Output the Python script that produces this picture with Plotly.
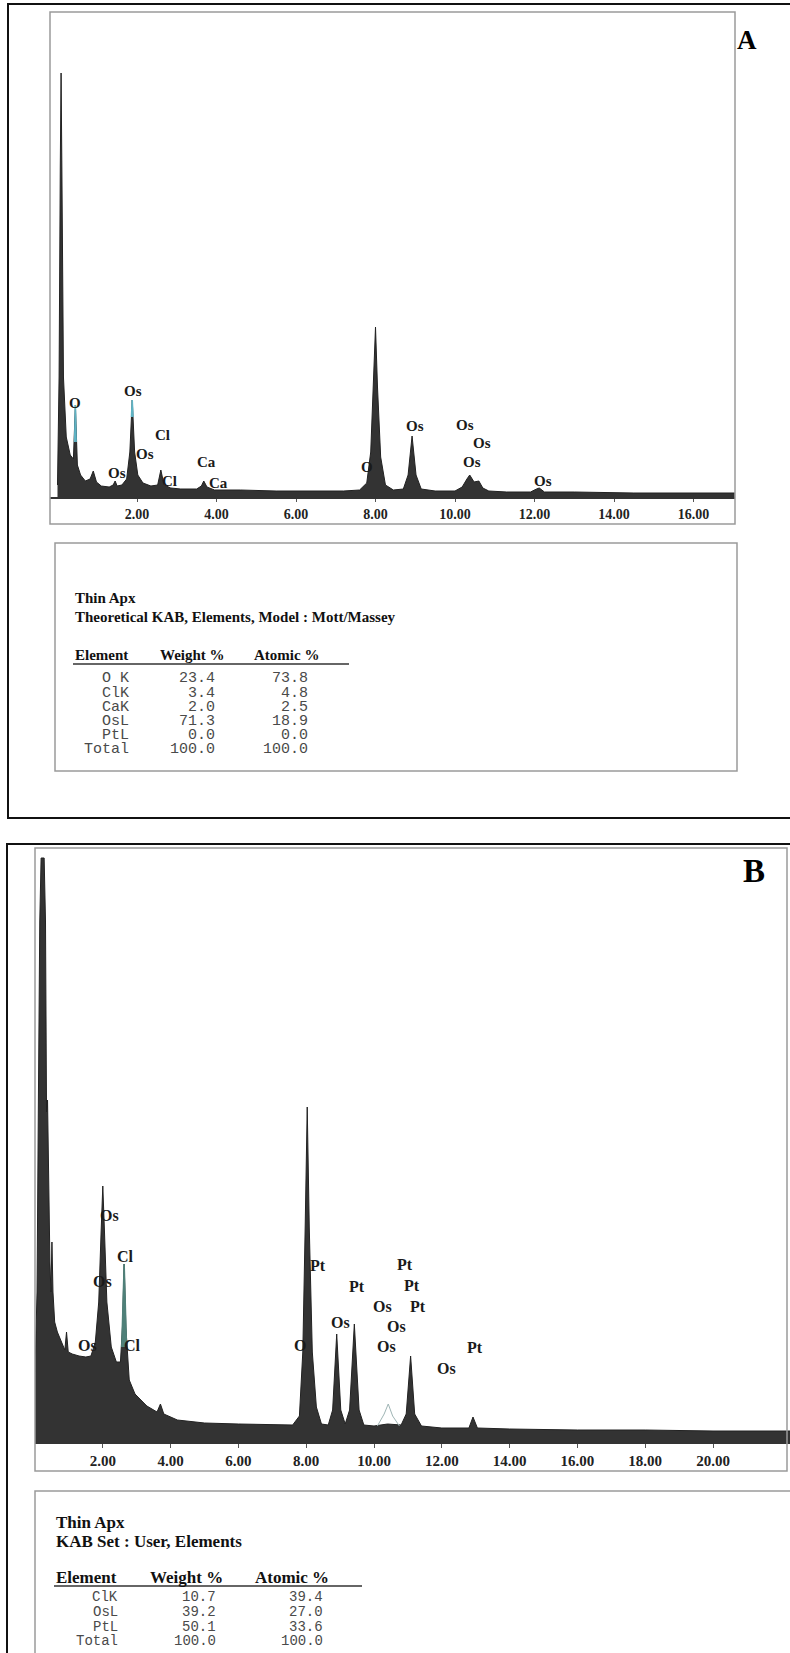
import plotly.graph_objects as go

W, H = 790, 1653

# ---------------- data ----------------
# Panel A spectrum (energy keV, counts in arbitrary units)
energy_A = [0.00, 0.04, 0.07, 0.09, 0.11, 0.15, 0.22, 0.32, 0.40, 0.45, 0.50, 0.58, 0.70, 0.82,
            0.90, 0.98, 1.10, 1.30, 1.40, 1.45, 1.50, 1.62, 1.74, 1.82, 1.88, 1.94, 2.02, 2.15,
            2.35, 2.52, 2.60, 2.68, 2.85, 3.10, 3.50, 3.62, 3.68, 3.76, 3.95, 4.60, 5.50, 6.50,
            7.20, 7.60, 7.78, 7.88, 7.95, 8.00, 8.05, 8.13, 8.25, 8.45, 8.70, 8.82, 8.92, 9.02,
            9.15, 9.50, 10.00, 10.18, 10.30, 10.37, 10.48, 10.60, 10.70, 10.85, 11.30, 11.90,
            12.05, 12.12, 12.25, 13.00, 14.50, 16.00, 17.04]
counts_A = [12, 120, 330, 424, 330, 120, 60, 42, 38, 92, 32, 22, 16, 18,
            26, 15, 11, 10, 12, 16, 11, 12, 18, 45, 97, 45, 22, 14,
            11, 12, 27, 12, 9, 8, 8, 11, 16, 10, 7, 7, 6, 6,
            6, 7, 14, 45, 110, 170, 110, 40, 12, 7, 8, 22, 61, 22,
            8, 6, 6, 10, 18, 22, 15, 16, 9, 6, 5, 5,
            8, 9, 5, 5, 4, 4, 4]

# Panel B spectrum
energy_B = [0.00, 0.06, 0.10, 0.14, 0.18, 0.27, 0.31, 0.34, 0.37, 0.40, 0.44, 0.47, 0.50, 0.53,
            0.58, 0.66, 0.78, 0.88, 0.93, 0.98, 1.10, 1.30, 1.50, 1.65, 1.78, 1.88, 1.95, 2.00,
            2.05, 2.12, 2.25, 2.40, 2.52, 2.58, 2.63, 2.68, 2.78, 2.95, 3.30, 3.60, 3.70, 3.80,
            4.20, 5.00, 6.00, 7.00, 7.60, 7.80, 7.90, 7.97, 8.03, 8.09, 8.18, 8.30, 8.45, 8.65,
            8.78, 8.90, 9.02, 9.15, 9.28, 9.42, 9.56, 9.70, 10.00, 10.40, 10.80, 10.95, 11.08,
            11.20, 11.40, 12.00, 12.80, 12.92, 13.05, 14.00, 16.00, 18.00, 20.00, 22.30]
counts_B = [70, 150, 340, 520, 584, 584, 520, 330, 342, 250, 180, 150, 200, 150,
            120, 110, 100, 92, 110, 90, 88, 86, 85, 86, 100, 140, 210, 256,
            210, 140, 95, 80, 80, 115, 178, 115, 62, 48, 36, 30, 38, 28,
            22, 19, 18, 17, 17, 26, 90, 215, 335, 215, 90, 35, 18, 17,
            32, 108, 32, 18, 32, 118, 32, 17, 16, 18, 17, 28, 86,
            28, 16, 14, 14, 25, 14, 13, 12, 12, 11, 11]

# overlay traces (coloured outlines in the original print)
overlay_A_e = [0.43, 0.45, 0.47, None, 1.86, 1.88, 1.90]
overlay_A_c = [55, 92, 55, None, 80, 97, 80]
overlay_B_cl_e = [2.56, 2.63, 2.70]
overlay_B_cl_c = [95, 178, 95]
overlay_B_os_e = [10.10, 10.30, 10.42, 10.55, 10.75]
overlay_B_os_c = [16, 28, 38, 26, 16]

ticks_A = [2, 4, 6, 8, 10, 12, 14, 16]
ticks_B = [2, 4, 6, 8, 10, 12, 14, 16, 18, 20]

elements_A = ["O K", "ClK", "CaK", "OsL", "PtL", "Total"]
weight_A = [23.4, 3.4, 2.0, 71.3, 0.0, 100.0]
atomic_A = [73.8, 4.8, 2.5, 18.9, 0.0, 100.0]

elements_B = ["ClK", "OsL", "PtL", "Total"]
weight_B = [10.7, 39.2, 50.1, 100.0]
atomic_B = [39.4, 27.0, 33.6, 100.0]

labels_A = ["O", "Os", "Cl", "Os", "Os", "Cl", "Ca", "Ca", "O", "Os", "Os", "Os", "Os", "Os"]
labels_B = ["Os", "Cl", "Os", "Os", "Cl", "O", "Pt", "Pt", "Os", "Pt", "Pt", "Os", "Pt", "Os",
            "Os", "Pt", "Os"]

# ---------------- layout helpers ----------------
def px(x):
    return x / W


def py(y):
    return 1 - y / H


# label anchor points (keV, counts)
label_pos_A = [(0.44, 94), (1.90, 106), (2.65, 62), (2.20, 43), (1.50, 24), (2.83, 16),
               (3.74, 35), (4.04, 14), (7.79, 30), (8.99, 71), (10.25, 72), (10.68, 54),
               (10.43, 35), (12.21, 16)]
label_pos_B = [(2.21, 227), (2.68, 186), (1.98, 161), (1.56, 97), (2.89, 97), (7.82, 97),
               (8.35, 177), (9.50, 156), (9.00, 120), (10.91, 178), (11.12, 157), (10.24, 136),
               (11.30, 136), (10.65, 116), (10.38, 96), (12.98, 95), (12.15, 74)]

SERIF = "Liberation Serif, Times New Roman, serif"
MONO = "Liberation Mono, Courier New, monospace"

fig = go.Figure()

fig.add_trace(go.Scatter(x=energy_A, y=counts_A, mode="lines", fill="tozeroy",
                         line=dict(color="#222222", width=1), fillcolor="#333333",
                         xaxis="x", yaxis="y", hoverinfo="skip", showlegend=False))
fig.add_trace(go.Scatter(x=overlay_A_e, y=overlay_A_c, mode="lines",
                         line=dict(color="#5fb3c4", width=1.5),
                         xaxis="x", yaxis="y", hoverinfo="skip", showlegend=False))

fig.add_trace(go.Scatter(x=energy_B, y=counts_B, mode="lines", fill="tozeroy",
                         line=dict(color="#222222", width=1), fillcolor="#333333",
                         xaxis="x2", yaxis="y2", hoverinfo="skip", showlegend=False))
fig.add_trace(go.Scatter(x=overlay_B_cl_e, y=overlay_B_cl_c, mode="lines", fill="toself",
                         line=dict(color="#4f8079", width=1.5), fillcolor="#4f8079",
                         xaxis="x2", yaxis="y2", hoverinfo="skip", showlegend=False))
fig.add_trace(go.Scatter(x=overlay_B_os_e, y=overlay_B_os_c, mode="lines",
                         line=dict(color="#9fb5b5", width=1),
                         xaxis="x2", yaxis="y2", hoverinfo="skip", showlegend=False))

# axes geometry (pixels)
A_left, A_right, A_axis, A_top = 50, 735, 497, 12
A_zero, A_scale = 57.5, 39.75
B_left, B_right, B_axis, B_top = 35, 790, 1442, 848
B_zero, B_scale = 35.0, 33.9

axis_common = dict(showgrid=False, zeroline=False, showline=True, linecolor="#333333",
                   linewidth=2, ticks="outside", tickcolor="#555555",
                   tickformat=".2f", fixedrange=True)

fig.update_layout(
    width=W, height=H, autosize=False,
    margin=dict(l=0, r=0, t=0, b=0, pad=0),
    paper_bgcolor="white", plot_bgcolor="white",
    showlegend=False,
    xaxis=dict(domain=[px(A_left), px(A_right)],
               range=[(A_left - A_zero) / A_scale, (A_right - A_zero) / A_scale],
               tickvals=ticks_A, anchor="y", ticklen=3,
               tickfont=dict(family=SERIF, size=14, color="#222222", weight="bold"),
               **axis_common),
    yaxis=dict(domain=[py(A_axis), py(A_top)], range=[0, A_axis - A_top], visible=False,
               anchor="x", fixedrange=True),
    xaxis2=dict(domain=[px(B_left), px(B_right)],
                range=[(B_left - B_zero) / B_scale, (B_right - B_zero) / B_scale],
                tickvals=ticks_B, anchor="y2", ticklen=4,
                tickfont=dict(family=SERIF, size=15, color="#222222", weight="bold"),
                **axis_common),
    yaxis2=dict(domain=[py(B_axis), py(B_top)], range=[0, B_axis - B_top], visible=False,
                anchor="x2", fixedrange=True),
)

shapes = []


def rect(x0, y0, x1, y1, color, width):
    shapes.append(dict(type="rect", xref="paper", yref="paper",
                       x0=px(x0), x1=px(x1), y0=py(y1), y1=py(y0),
                       line=dict(color=color, width=width), fillcolor="rgba(0,0,0,0)",
                       layer="above"))


def hline(x0, x1, y, color, width):
    shapes.append(dict(type="line", xref="paper", yref="paper",
                       x0=px(x0), x1=px(x1), y0=py(y), y1=py(y),
                       line=dict(color=color, width=width)))


# panel A frames
rect(8, 4, 805, 818, "#111111", 2)
rect(50, 12, 735, 524, "#9a9a9a", 1.5)
rect(55, 543, 737, 771, "#9a9a9a", 1.5)
hline(73, 349, 664, "#333333", 1.5)
# panel B frames
rect(7, 844, 805, 1700, "#111111", 2)
rect(35, 848, 787, 1471, "#9a9a9a", 1.5)
rect(35, 1491, 805, 1700, "#9a9a9a", 1.5)
hline(54, 362, 1586, "#333333", 1.5)

fig.update_layout(shapes=shapes)

ann = []


def text(x, y, s, size, family=SERIF, bold=True, anchor="left", color="#111111"):
    ann.append(dict(xref="paper", yref="paper", x=px(x), y=py(y), text=(f"<b>{s}</b>" if bold else s),
                    showarrow=False, xanchor=anchor, yanchor="middle",
                    font=dict(family=family, size=size, color=color)))


# peak labels (data coordinates)
for s, (e, c) in zip(labels_A, label_pos_A):
    ann.append(dict(xref="x", yref="y", x=e, y=c, text=f"<b>{s}</b>", showarrow=False,
                    xanchor="center", yanchor="middle",
                    font=dict(family=SERIF, size=15, color="#1a1a1a")))
for s, (e, c) in zip(labels_B, label_pos_B):
    ann.append(dict(xref="x2", yref="y2", x=e, y=c, text=f"<b>{s}</b>", showarrow=False,
                    xanchor="center", yanchor="middle",
                    font=dict(family=SERIF, size=16, color="#1a1a1a")))

# panel letters
text(747, 40, "A", 27, anchor="center", color="#000000")
text(754, 871, "B", 33, anchor="center", color="#000000")

# table A
text(73, 598, "Thin Apx", 15)
text(73, 617, "Theoretical KAB, Elements, Model : Mott/Massey", 15)
text(73, 655, "Element", 15)
text(158, 655, "Weight %", 15)
text(252, 655, "Atomic %", 15)
rows_A_y = [679, 693, 707, 721, 735, 749]
for el, w, a, y in zip(elements_A, weight_A, atomic_A, rows_A_y):
    text(131, y, el, 15, family=MONO, bold=False, anchor="right", color="#4a4a4a")
    text(217, y, f"{w:.1f}", 15, family=MONO, bold=False, anchor="right", color="#4a4a4a")
    text(310, y, f"{a:.1f}", 15, family=MONO, bold=False, anchor="right", color="#4a4a4a")

# table B
text(54, 1522, "Thin Apx", 17)
text(54, 1541, "KAB Set : User, Elements", 17)
text(54, 1577, "Element", 17)
text(148, 1577, "Weight %", 17)
text(253, 1577, "Atomic %", 17)
rows_B_y = [1597, 1612, 1627, 1641]
for el, w, a, y in zip(elements_B, weight_B, atomic_B, rows_B_y):
    text(120, y, el, 14, family=MONO, bold=False, anchor="right", color="#4a4a4a")
    text(218, y, f"{w:.1f}", 14, family=MONO, bold=False, anchor="right", color="#4a4a4a")
    text(325, y, f"{a:.1f}", 14, family=MONO, bold=False, anchor="right", color="#4a4a4a")

fig.update_layout(annotations=ann)

fig.write_html("out.html")
